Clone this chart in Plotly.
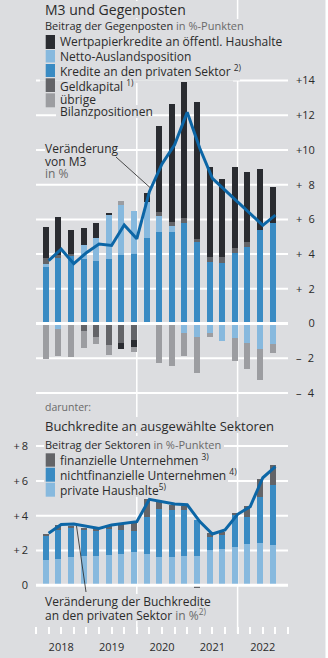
import plotly.graph_objects as go

# ---------------- data (quarters 2018Q1 .. 2022Q3) ----------------
years = ["2018", "2019", "2020", "2021", "2022"]
n_quarters = 19

# Top panel: contributions of counterparts to M3 growth (percentage points)
kredite_priv = [3.27, 3.75, 3.90, 3.72, 3.62, 3.70, 3.95, 4.00, 4.91, 5.29, 5.26, 5.81, 4.71, 3.56, 3.47, 4.05, 4.39, 5.39, 5.78]
netto_ausland = [0.16, -0.30, 0.00, 0.81, 1.29, 2.57, 2.88, 2.48, 2.11, 0.90, 0.36, -0.53, -0.80, -0.55, -0.99, -0.85, -1.10, -1.47, -1.18]
geldkapital = [0.33, 0.20, 0.10, -0.41, -0.80, -1.24, -1.10, -0.95, 0.00, 0.21, 0.21, 0.25, 0.15, 0.29, 0.38, 0.29, 0.32, 0.00, 0.00]
wertpapier = [1.82, 2.17, 1.39, 0.98, 0.86, 0.10, -0.39, -0.42, 0.50, 5.00, 6.82, 7.88, 7.92, 5.19, 4.50, 4.66, 4.03, 3.50, 2.06]
uebrige = [-2.06, -1.58, -1.95, -0.98, -0.40, -0.58, 0.23, -0.25, -0.10, -2.26, -2.43, -1.34, -2.04, -0.23, 0.00, -1.31, -1.54, -1.79, -0.50]
m3_growth = [3.62, 4.28, 3.45, 4.08, 4.58, 4.50, 5.68, 4.88, 7.60, 9.20, 10.30, 12.18, 10.10, 8.37, 7.69, 7.02, 6.35, 5.66, 6.25]

# Bottom panel: loans to selected sectors (percentage points)
private_hh = [1.47, 1.52, 1.64, 1.66, 1.71, 1.75, 1.79, 1.89, 1.79, 1.60, 1.60, 1.70, 1.71, 2.04, 2.10, 2.19, 2.37, 2.46, 2.29]
nichtfin = [1.37, 1.63, 1.70, 1.57, 1.44, 1.48, 1.40, 1.24, 2.13, 2.78, 2.74, 2.60, 2.05, 0.76, 0.80, 1.86, 1.58, 2.64, 3.45]
finanziell = [0.12, 0.33, 0.08, 0.08, 0.08, 0.15, 0.33, 0.48, 1.03, 0.38, 0.29, 0.27, -0.18, 0.20, 0.19, 0.06, 0.58, 1.00, 1.19]
loan_growth = [2.99, 3.50, 3.52, 3.40, 3.27, 3.47, 3.56, 3.66, 4.94, 4.80, 4.67, 4.63, 3.66, 2.95, 3.18, 4.08, 4.52, 6.18, 6.82]

top_ticks = [-4, -2, 0, 2, 4, 6, 8, 10, 12, 14]
top_ticktext = ["\u2013\u20074", "\u2013\u20072", "\u2007\u20070", "+\u20072", "+\u20074", "+\u20076", "+\u20078", "+10", "+12", "+14"]
bot_ticks = [0, 2, 4, 6, 8]
bot_ticktext = ["0", "+\u20092", "+\u20094", "+\u20096", "+\u20098"]

# ---------------- style ----------------
BG = "#dcdde0"
C_BLACK = "#2a2c31"
C_DGRAY = "#636468"
C_LGRAY = "#9c9da1"
C_BLUE = "#3a8bc3"
C_LBLUE = "#87b9de"
C_LINE = "#0c66a6"
TXT = "#2b2b2b"
TXT_G = "#6a6a6a"
FONT = "Open Sans"

W, H = 328, 658
L, R = 36, 40  # plot area x from 36 to 288


def px(xp):
    return (xp - L) / (W - L - R)


def py(yp):
    return 1 - yp / H


bar_x = [i + 0.78 for i in range(n_quarters)]
line_x = [i + 1.0 for i in range(n_quarters)]
BW = 0.48

fig = go.Figure()

top_series = [
    ("Kredite an den privaten Sektor", kredite_priv, C_BLUE),
    ("Netto-Auslandsposition", netto_ausland, C_LBLUE),
    ("Geldkapital", geldkapital, C_DGRAY),
    ("Wertpapierkredite an öffentl. Haushalte", wertpapier, C_BLACK),
    ("übrige Bilanzpositionen", uebrige, C_LGRAY),
]
for name, vals, col in top_series:
    fig.add_trace(go.Bar(x=bar_x, y=vals, width=BW, name=name, marker=dict(color=col, line=dict(width=0)),
                         xaxis="x", yaxis="y", showlegend=False))
fig.add_trace(go.Scatter(x=line_x, y=m3_growth, mode="lines", line=dict(color=C_LINE, width=3),
                         xaxis="x", yaxis="y", showlegend=False))

bot_series = [
    ("private Haushalte", private_hh, C_LBLUE),
    ("nichtfinanzielle Unternehmen", nichtfin, C_BLUE),
    ("finanzielle Unternehmen", finanziell, C_DGRAY),
]
for name, vals, col in bot_series:
    fig.add_trace(go.Bar(x=bar_x, y=vals, width=BW, name=name, marker=dict(color=col, line=dict(width=0)),
                         xaxis="x2", yaxis="y2", showlegend=False))
fig.add_trace(go.Scatter(x=line_x, y=loan_growth, mode="lines", line=dict(color=C_LINE, width=3),
                         xaxis="x2", yaxis="y2", showlegend=False))

# axes geometry
top_zero, top_unit, top_a, top_b = 323.5, 17.35, 70, 400
bot_zero, bot_unit, bot_a, bot_b = 585.3, 17.4, 440, 600

fig.update_layout(
    width=W, height=H, margin=dict(l=L, r=R, t=0, b=0, pad=0),
    paper_bgcolor=BG, plot_bgcolor=BG, barmode="relative", bargap=0,
    font=dict(family=FONT, color=TXT, size=11),
    xaxis=dict(range=[0, 20], domain=[0, 1], anchor="y", visible=False, fixedrange=True),
    yaxis=dict(domain=[py(top_b), py(top_a)],
               range=[(top_zero - top_b) / top_unit, (top_zero - top_a) / top_unit],
               side="right", anchor="x", tickmode="array", tickvals=top_ticks, ticktext=top_ticktext,
               showgrid=False, zeroline=False, showline=False, ticks="", ticklabelstandoff=7,
               automargin=False, tickfont=dict(size=11, color=TXT)),
    xaxis2=dict(range=[0, 20], domain=[0, 1], anchor="free", position=py(626), side="bottom",
                tickmode="array", tickvals=[2, 6, 10, 14, 18], ticktext=years,
                ticks="outside", ticklen=7, tickwidth=1.5, tickcolor="white",
                minor=dict(tickmode="linear", tick0=0, dtick=1, ticks="outside", ticklen=7,
                           tickwidth=1.5, tickcolor="white", showgrid=False),
                showgrid=False, zeroline=False, showline=False, ticklabelstandoff=4,
                automargin=False, tickfont=dict(size=11, color=TXT)),
    yaxis2=dict(domain=[py(bot_b), py(bot_a)],
                range=[(bot_zero - bot_b) / bot_unit, (bot_zero - bot_a) / bot_unit],
                side="left", anchor="x2", tickmode="array", tickvals=bot_ticks, ticktext=bot_ticktext,
                showgrid=False, zeroline=False, showline=False, ticks="", ticklabelstandoff=7,
                automargin=False, tickfont=dict(size=11, color=TXT)),
)

shapes = []
# horizontal gridlines (drawn below everything), zero lines drawn on top of bars
for yref, ticks in (("y", top_ticks), ("y2", bot_ticks)):
    for t in ticks:
        if t == 0:
            continue
        shapes.append(dict(type="line", xref="paper", yref=yref, x0=0, x1=1, y0=t, y1=t,
                           line=dict(color="white", width=2), layer="below"))
# vertical year gridlines (start of 2020 and 2022)
for q in (8, 16):
    xp = L + q * (W - L - R) / 20
    shapes.append(dict(type="line", xref="paper", yref="paper", x0=px(xp), x1=px(xp), y0=py(0), y1=py(633),
                       line=dict(color="white", width=1.5), layer="below"))


# background patches behind the texts (hide the grid there)
def patch(x0, x1, y0, y1):
    shapes.append(dict(type="rect", xref="paper", yref="paper", x0=px(x0), x1=px(x1), y0=py(y1), y1=py(y0),
                       fillcolor=BG, line=dict(width=0), layer="below"))


patch(44, 179, 1, 18)
patch(44, 248, 19, 32)
patch(40, 270, 32, 49)
patch(40, 240, 49, 80.5)
patch(40, 233, 80.5, 83)
patch(56, 132, 83, 92)
patch(56, 97, 92, 105)
patch(56, 149, 105, 118)
patch(45, 116, 141, 180)
patch(44, 93, 400, 414)
patch(44, 272, 417, 433)
patch(44, 224, 436, 451)
patch(44, 228, 451, 497)
patch(44, 200, 594, 621)


def swatch(y0, y1, col):
    shapes.append(dict(type="rect", xref="paper", yref="paper", x0=px(45.7), x1=px(55), y0=py(y1), y1=py(y0),
                       fillcolor=col, line=dict(width=0), layer="above"))


swatch(35, 49, C_BLACK)
swatch(50, 62.5, C_LBLUE)
swatch(64, 77, C_BLUE)
swatch(78.3, 92, C_DGRAY)
swatch(93.3, 107.3, C_LGRAY)
swatch(453.3, 466.7, C_DGRAY)
swatch(467.7, 481.7, C_BLUE)
swatch(482.7, 496.7, C_LBLUE)
# zero lines above the bars
for yref in ("y", "y2"):
    shapes.append(dict(type="line", xref="paper", yref=yref, x0=0, x1=1, y0=0, y1=0,
                       line=dict(color="white", width=3), layer="above"))
# leader lines
shapes.append(dict(type="line", xref="paper", yref="paper", x0=px(116), y0=py(157), x1=px(150), y1=py(187.5),
                   line=dict(color="#222", width=0.8), layer="above"))
shapes.append(dict(type="line", xref="paper", yref="paper", x0=px(86), y0=py(592), x1=px(76.5), y1=py(526),
                   line=dict(color="#222", width=0.8), layer="above"))
# white frame edge on the right
shapes.append(dict(type="rect", xref="paper", yref="paper", x0=px(325.5), x1=px(329), y0=py(658), y1=py(0),
                   fillcolor="white", line=dict(width=0), layer="above"))
fig.update_layout(shapes=shapes)

anns = []


def txt(x, y, s, size=11, color=TXT):
    anns.append(dict(xref="paper", yref="paper", x=px(x), y=py(y), xanchor="left", yanchor="middle",
                     text=s, showarrow=False, font=dict(size=size, color=color, family=FONT),
                     borderpad=0))


G = f"<span style='color:{TXT_G}'>"
txt(44, 9, "M3 und Gegenposten", 14)
txt(44, 26, f"Beitrag der Gegenposten {G}in %-Punkten</span>", 11)
txt(59, 42, "Wertpapierkredite an öffentl. Haushalte", 12)
txt(59, 56.5, "Netto-Auslandsposition", 12)
txt(59, 71, "Kredite an den privaten Sektor <sup>2)</sup>", 12)
txt(59, 86, "Geldkapital <sup>1)</sup>", 12)
txt(59, 99.5, "übrige", 12)
txt(59, 111.5, "Bilanzpositionen", 12)
txt(44, 148.5, "Veränderung", 12)
txt(44, 161.5, "von M3", 12)
txt(44, 174, f"{G}in %</span>", 12)
txt(44, 407.5, f"{G}darunter:</span>", 10.5)
txt(44, 425.5, "Buchkredite an ausgewählte Sektoren", 13)
txt(44, 444, f"Beitrag der Sektoren {G}in %-Punkten</span>", 11)
txt(59, 460.5, "finanzielle Unternehmen <sup>3)</sup>", 12)
txt(59, 475, "nichtfinanzielle Unternehmen <sup>4)</sup>", 12)
txt(59, 489.5, "private Haushalte<sup>5)</sup>", 12)
txt(44, 601.5, "Veränderung der Buchkredite", 12)
txt(44, 615, f"an den privaten Sektor {G}in %<sup>2)</sup></span>", 12)
fig.update_layout(annotations=anns)

fig.write_html("out.html")
